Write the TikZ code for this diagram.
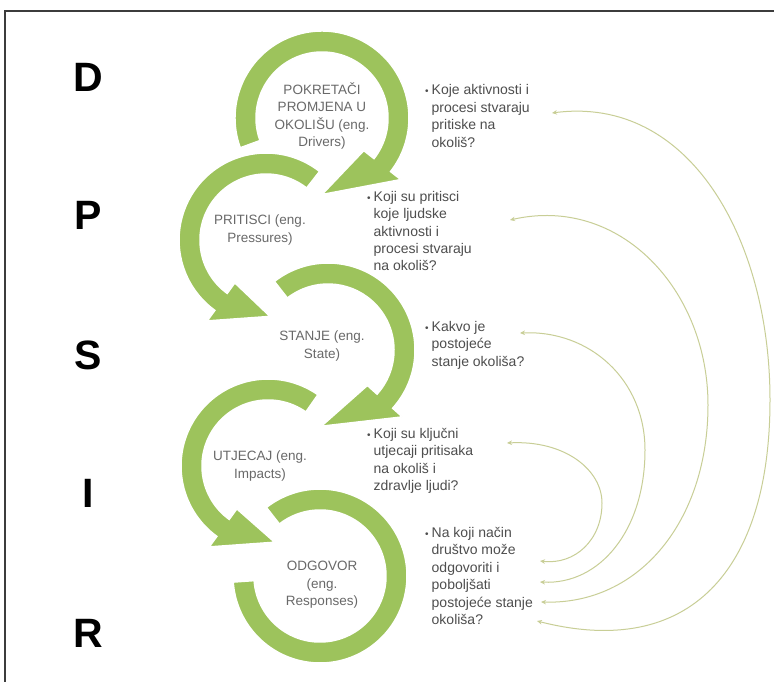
\documentclass[tikz,border=0pt]{standalone}
\usepackage{fontspec}
\setmainfont{Liberation Sans}
\usetikzlibrary{calc,arrows.meta}
\definecolor{ringgreen}{RGB}{157,195,92}
\definecolor{linkc}{RGB}{200,206,150}
\definecolor{qtext}{RGB}{78,78,78}
\definecolor{rtext}{RGB}{105,105,105}
\definecolor{framec}{RGB}{60,60,60}
\newcommand{\Ro}{87}
\newcommand{\Ri}{66}
\newcommand{\Rm}{76.5}
% ring arrow: center, tail angle, head base angle, tip angle
\newcommand{\ringarrow}[4]{%
  \fill[ringgreen, draw=white, line width=1.5pt]
    ($(#1)+(#2:\Ro)$) arc[start angle=#2, end angle=#3, radius=\Ro]
    -- ($(#1)+(#3:\Ro+13)$) -- ($(#1)+(#4:\Rm)$) -- ($(#1)+(#3:\Ri-13)$)
    -- ($(#1)+(#3:\Ri)$) arc[start angle=#3, end angle=#2, radius=\Ri] -- cycle;}
\newcommand{\ringband}[3]{%
  \fill[ringgreen, draw=white, line width=1.5pt]
    ($(#1)+(#2:\Ro)$) arc[start angle=#2, end angle=#3, radius=\Ro]
    -- ($(#1)+(#3:\Ri)$) arc[start angle=#3, end angle=#2, radius=\Ri] -- cycle;}
\newcommand{\bul}{{\fontsize{10}{10}\selectfont\textbullet}}
\begin{document}
\begin{tikzpicture}[x=1pt,y=1pt,
  letter/.style={font=\fontsize{41}{41}\selectfont\bfseries, inner sep=0},
  ringtext/.style={font=\fontsize{13.5}{17.5}\selectfont, text=rtext, align=center, inner sep=0},
  question/.style={font=\fontsize{14}{17.5}\selectfont, text=qtext, anchor=base west, inner sep=0},
  link/.style={draw=linkc, line width=1pt, >={Stealth[length=5pt,width=4.5pt]}, <->}]
\useasboundingbox (0,0) rectangle (774,-682);
\fill[white] (0,0) rectangle (774,-682);
\draw[framec, line width=1.5pt] (5,-690) -- (5,-11) -- (780,-11);

% ring centres
\coordinate (c1) at (322,-118);
\coordinate (c2) at (266,-240);
\coordinate (c3) at (328,-350);
\coordinate (c4) at (268,-466);
\coordinate (c5) at (320,-576);

\ringband{c5}{128}{-176}
\ringarrow{c4}{55}{234}{275}
\ringarrow{c3}{128}{-42}{-95}
\ringarrow{c2}{52}{234}{273}
\ringarrow{c1}{200}{-38}{-90}

% letters
\node[letter] (lD) at (88,-77) {D};
\node[letter] (lP) at (88,-215) {P};
\node[letter] (lS) at (88,-355) {S};
\node[letter] (lI) at (88,-493) {I};
\node[letter] (lR) at (88,-633) {R};

% ring texts
\node[ringtext] (t1) at (322,-116) {POKRETAČI\\PROMJENA U\\OKOLIŠU (eng.\\Drivers)};
\node[ringtext] (t2) at (260,-230) {PRITISCI (eng.\\Pressures)};
\node[ringtext] (t3) at (322,-346) {STANJE (eng.\\State)};
\node[ringtext] (t4) at (260,-466) {UTJECAJ (eng.\\Impacts)};
\node[ringtext] (t5) at (322,-585) {ODGOVOR\\(eng.\\Responses)};

% questions
\node[question] (q1) at (425,-95) {\begin{tabular}[t]{@{}l@{\hspace{3pt}}l@{}}\bul & Koje aktivnosti i\\ & procesi stvaraju\\ & pritiske na\\ & okoliš?\end{tabular}};
\node[question] (q2) at (367,-201) {\begin{tabular}[t]{@{}l@{\hspace{3pt}}l@{}}\bul & Koji su pritisci\\ & koje ljudske\\ & aktivnosti i\\ & procesi stvaraju\\ & na okoliš?\end{tabular}};
\node[question] (q3) at (425,-331) {\begin{tabular}[t]{@{}l@{\hspace{3pt}}l@{}}\bul & Kakvo je\\ & postojeće\\ & stanje okoliša?\end{tabular}};
\node[question] (q4) at (367,-438) {\begin{tabular}[t]{@{}l@{\hspace{3pt}}l@{}}\bul & Koji su ključni\\ & utjecaji pritisaka\\ & na okoliš i\\ & zdravlje ljudi?\end{tabular}};
\node[question] (q5) at (425,-537) {\begin{tabular}[t]{@{}l@{\hspace{3pt}}l@{}}\bul & Na koji način\\ & društvo može\\ & odgovoriti i\\ & poboljšati\\ & postojeće stanje\\ & okoliša?\end{tabular}};

% connector ends
\coordinate (a1) at (552,-113);
\coordinate (a2) at (510,-220);
\coordinate (a3) at (520,-333);
\coordinate (a4) at (507,-443);
\coordinate (b4) at (540,-561);
\coordinate (b3) at (540,-582);
\coordinate (b2) at (541,-602);
\coordinate (b1) at (537,-621);

\draw[link] (a1) .. controls (690,-95) and (770,-240) .. (770,-400)
  .. controls (770,-570) and (690,-660) .. (b1);
\draw[link] (a2) .. controls (620,-195) and (708,-290) .. (708,-405)
  .. controls (708,-520) and (640,-605) .. (b2);
\draw[link] (a3) .. controls (590,-330) and (645,-380) .. (645,-450)
  .. controls (645,-530) and (600,-585) .. (b3);
\draw[link] (a4) .. controls (565,-440) and (602,-470) .. (602,-503)
  .. controls (602,-540) and (575,-565) .. (b4);
\end{tikzpicture}
\end{document}
